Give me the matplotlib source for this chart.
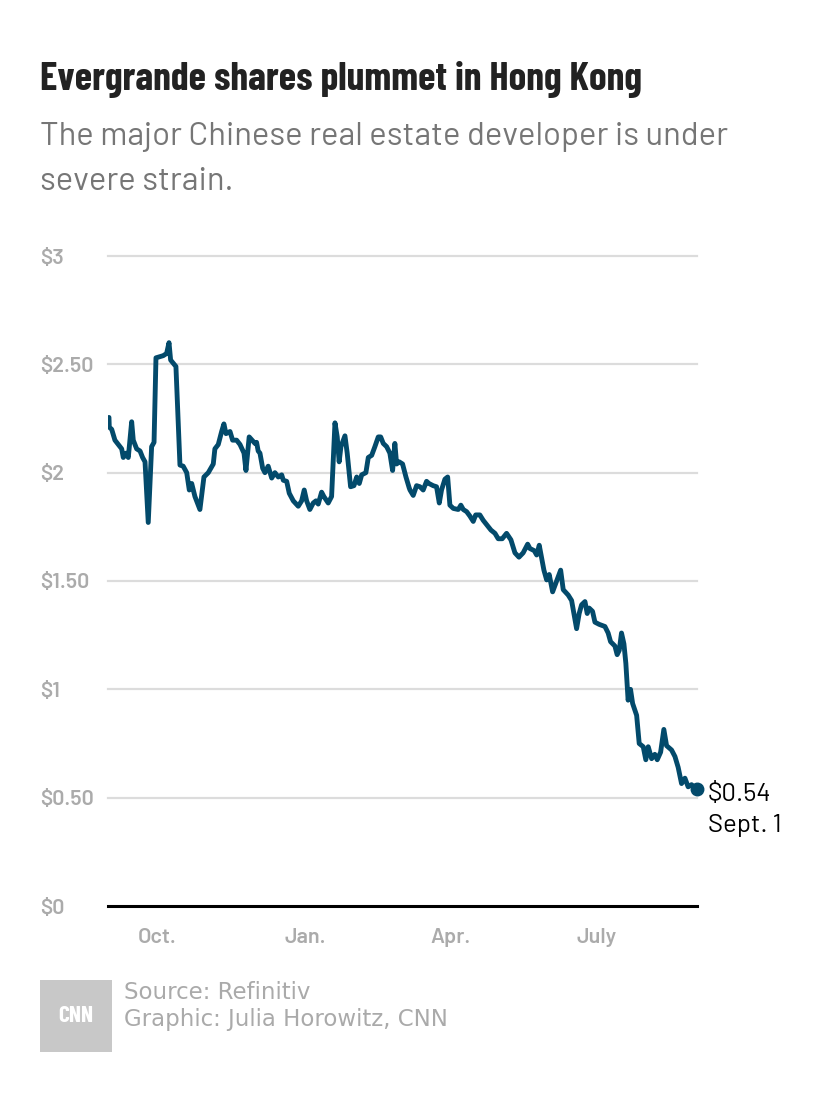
# --------------------------- EVERGRANDE SHARE PRICE CHART ---------------------------

# This script redraws the CNN chart of Evergrande shares in Hong Kong.


# --------------------------- IMPORT LIBRARIES ---------------------------

import numpy as np
import pandas as pd
import matplotlib.pyplot as plt


# --------------------------- DEFINE THE DATA ---------------------------

# Days since Sept. 1, 2020.
days = [0, 0.2, 1.7, 3.7, 5.8, 7.9, 8.9, 10.6, 12.0, 14.1, 15.1, 17.2, 19.3, 20.9, 22.4, 24.4,
        26.5, 28.0, 29.2, 33.7, 35.8, 37.3, 38.3, 41.6, 44.1, 46.1, 48.3, 49.9, 51.4, 53.4, 56.5,
        59.0, 61.7, 64.8, 65.8, 67.9, 70.0, 71.4, 72.7, 75.2, 76.8, 79.3, 81.4, 83.9, 85.1, 87.1,
        90.7, 91.7, 92.7, 93.8, 95.5, 96.9, 98.9, 101.1, 103.1, 105.2, 107.3, 108.3, 110.4, 112.0,
        114.5, 117.6, 119.7, 121.3, 122.8, 124.8, 126.9, 128.6, 130.0, 132.1, 133.5, 136.2, 138.3,
        140.4, 141.8, 143.0, 144.1, 146.6, 148.0, 150.1, 152.2, 153.9, 155.5, 157.0, 159.6, 161.1,
        163.2, 165.2, 167.3, 168.8, 170.4, 172.5, 174.5, 176.2, 177.6, 178.7, 180.3, 182.4, 184.5,
        186.5, 187.0, 189.0, 191.1, 193.2, 195.2, 197.3, 198.8, 201.4, 203.5, 205.2, 206.6, 208.7,
        210.4, 211.8, 213.9, 217.0, 218.6, 220.1, 222.2, 224.2, 226.3, 227.8, 230.4, 232.5, 234.6,
        237.3, 239.8, 241.8, 244.3, 247.0, 249.7, 252.2, 254.7, 257.3, 260.1, 261.5, 264.2, 265.7,
        267.3, 270.2, 271.9, 273.5, 275.6, 277.6, 280.6, 282.2, 285.3, 287.4, 288.8, 290.5, 292.1,
        293.6, 295.7, 297.1, 298.3, 300.4, 301.9, 304.5, 308.1, 310.1, 311.6, 314.3, 315.7, 317.0,
        318.4, 319.9, 321.1, 322.5, 324.0, 325.3, 327.8, 329.4, 331.9, 333.5, 335.0, 337.1, 339.1,
        340.6, 342.7, 344.7, 346.4, 349.5, 351.6, 353.6, 355.7, 357.8, 359.8, 361.9, 365.0]

# Share price [HK$] at each of those days.
prices = [2.255, 2.21, 2.20, 2.15, 2.13, 2.11, 2.07, 2.09, 2.07, 2.235, 2.15, 2.11, 2.10, 2.07, 2.05, 1.77,
          2.12, 2.14, 2.53, 2.54, 2.55, 2.60, 2.52, 2.49, 2.035, 2.03, 2.00, 1.92, 1.95, 1.89, 1.83,
          1.98, 2.00, 2.04, 2.11, 2.13, 2.19, 2.225, 2.18, 2.19, 2.15, 2.15, 2.13, 2.09, 2.01, 2.165,
          2.135, 2.14, 2.10, 2.09, 2.02, 2.00, 2.03, 1.975, 2.00, 1.98, 1.99, 1.965, 1.96, 1.905,
          1.87, 1.845, 1.87, 1.92, 1.87, 1.83, 1.86, 1.87, 1.855, 1.91, 1.89, 1.86, 1.89,
          2.23, 2.165, 2.05, 2.12, 2.17, 2.09, 1.935, 1.94, 1.98, 1.95, 1.99, 2.00, 2.07,
          2.08, 2.12, 2.165, 2.165, 2.135, 2.12, 2.09, 2.01, 2.135, 2.04, 2.05, 2.04, 1.98,
          1.93, 1.92, 1.895, 1.94, 1.935, 1.92, 1.96, 1.95, 1.94, 1.935, 1.86, 1.92, 1.97,
          1.98, 1.85, 1.835, 1.83, 1.85, 1.83, 1.82, 1.80, 1.775, 1.805, 1.805, 1.78, 1.76,
          1.735, 1.72, 1.695, 1.695, 1.72, 1.69, 1.63, 1.61, 1.63, 1.67, 1.65, 1.64, 1.62,
          1.665, 1.55, 1.505, 1.53, 1.45, 1.49, 1.55, 1.46, 1.435, 1.41, 1.35, 1.28, 1.35,
          1.39, 1.405, 1.35, 1.375, 1.36, 1.31, 1.30, 1.29, 1.26, 1.22, 1.20, 1.16, 1.18,
          1.26, 1.21, 1.12, 0.95, 1.00, 0.935, 0.88, 0.75, 0.735, 0.675, 0.735, 0.68, 0.70,
          0.675, 0.71, 0.815, 0.74, 0.72, 0.69, 0.64, 0.565, 0.59, 0.55, 0.56, 0.54]

# Axis ticks and labels.
y_ticks = [0, 0.5, 1, 1.5, 2, 2.5, 3]
y_labels = ['$0', '$0.50', '$1', '$1.50', '$2', '$2.50', '$3']
x_tick_dates = ['2020-10-01', '2021-01-01', '2021-04-01', '2021-07-01']
x_labels = ['Oct.', 'Jan.', 'Apr.', 'July']

# Convert the day offsets to real dates.
start_date = pd.Timestamp('2020-09-01')
dates = start_date + pd.to_timedelta(np.array(days), unit='D')


# --------------------------- DEFINE STYLE PROPERTIES ---------------------------

W, H = 830, 1102                     # [px] Figure size.
line_color = '#034a6b'
grid_color = '#dcdcdc'
tick_color = '#ababab'
bold_narrow = ['Barlow Condensed', 'Roboto Condensed', 'DejaVu Sans']
barlow = ['Barlow', 'Roboto', 'DejaVu Sans']
plain = ['DejaVu Sans']

# Helpers to place things in pixel coordinates.
fx = lambda x: x/W
fy = lambda y: 1 - y/H


# --------------------------- BUILD THE FIGURE ---------------------------

fig = plt.figure(figsize=(W/100, H/100), dpi=100)
ax = fig.add_axes([fx(108), fy(906), (697 - 108)/W, (906 - 256)/H])

# Plot the share price line and the end point.
ax.plot(dates, prices, color=line_color, lw=3.5, solid_joinstyle='round', solid_capstyle='round', zorder=3)
ax.plot(dates[-1], prices[-1], 'o', color=line_color, ms=9, clip_on=False, zorder=4)

# Set the axis limits.
ax.set_xlim(start_date - pd.Timedelta(days=0.6), start_date + pd.Timedelta(days=365.3))
ax.set_ylim(0, 3)

# Gridlines and the zero baseline.
for yv in y_ticks[1:]:
    ax.axhline(yv, color=grid_color, lw=1.6, zorder=1, clip_on=False)
ax.axhline(0, color='black', lw=2.2, zorder=2, clip_on=False)

# Hide the spines.
for s in ax.spines.values():
    s.set_visible(False)

# Y ticks, left aligned at x=40px.
ax.set_yticks(y_ticks)
ax.set_yticklabels(y_labels, family=barlow, fontsize=15.5, color=tick_color, ha='left', weight='semibold')
ax.tick_params(axis='y', length=0, pad=49)

# X ticks.
ax.set_xticks(pd.to_datetime(x_tick_dates))
ax.set_xticklabels(x_labels, family=barlow, fontsize=15.5, color=tick_color, weight='semibold')
ax.tick_params(axis='x', length=0, pad=15.5)

# End label.
ax.annotate('$0.54', xy=(dates[-1], prices[-1]), xytext=(11, -12), textcoords='offset pixels',
            ha='left', va='baseline', fontsize=18.5, family=barlow, color='black', annotation_clip=False)
ax.annotate('Sept. 1', xy=(dates[-1], prices[-1]), xytext=(11, -43), textcoords='offset pixels',
            ha='left', va='baseline', fontsize=18.5, family=barlow, color='black', annotation_clip=False)


# --------------------------- TITLES AND FOOTER ---------------------------

fig.text(fx(40), fy(90), 'Evergrande shares plummet in Hong Kong', family=bold_narrow, weight='bold',
         fontsize=28.6, color='#222222', va='baseline')
fig.text(fx(40), fy(145), 'The major Chinese real estate developer is under', family=barlow,
         fontsize=23.6, color='#767676', va='baseline')
fig.text(fx(40), fy(190), 'severe strain.', family=barlow, fontsize=23.6, color='#767676', va='baseline')

# CNN logo box.
logo = fig.add_axes([fx(40), fy(1052), 72/W, 72/H])
logo.set_facecolor('#c8c8c8')
logo.set_xticks([]); logo.set_yticks([])
for s in logo.spines.values():
    s.set_visible(False)
logo.text(0.5, 0.5, 'CNN', color='white', ha='center', va='center', fontsize=17, weight='bold',
          family=bold_narrow, transform=logo.transAxes)

fig.text(fx(124), fy(999), 'Source: Refinitiv', family=plain, fontsize=16.5, color='#aaaaaa', va='baseline')
fig.text(fx(124), fy(1026), 'Graphic: Julia Horowitz, CNN', family=plain, fontsize=16.5, color='#aaaaaa', va='baseline')

# Save the figure.
fig.savefig('out.png', dpi=100)
